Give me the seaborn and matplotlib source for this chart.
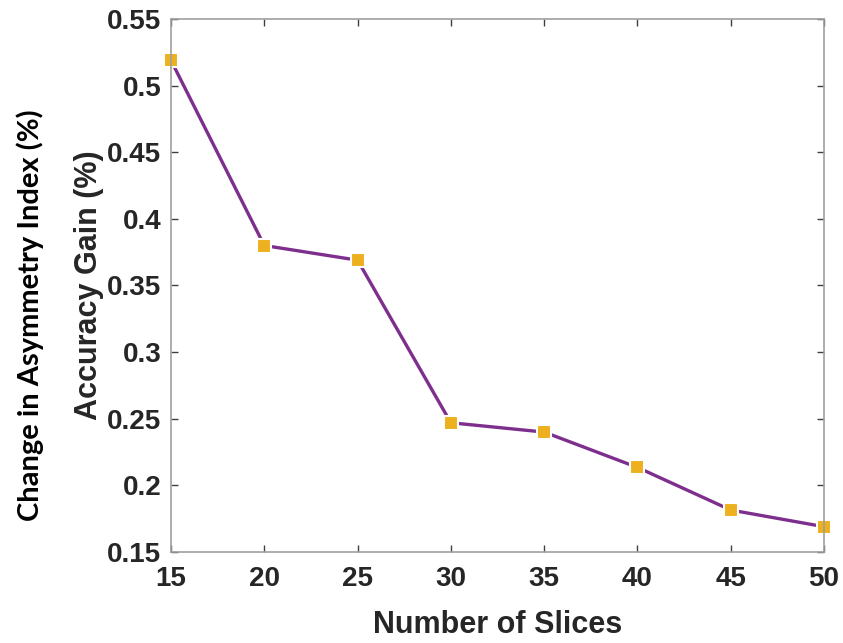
import matplotlib
matplotlib.use("Agg")
import matplotlib.pyplot as plt
import seaborn as sns
import pandas as pd

slices = [15, 20, 25, 30, 35, 40, 45, 50]
accuracy_gain = [0.519, 0.380, 0.369, 0.247, 0.240, 0.2135, 0.1815, 0.169]
x_ticks = [15, 20, 25, 30, 35, 40, 45, 50]
y_ticks = [0.15, 0.2, 0.25, 0.3, 0.35, 0.4, 0.45, 0.5, 0.55]
y_tick_labels = ["0.15", "0.2", "0.25", "0.3", "0.35", "0.4", "0.45", "0.5", "0.55"]

sns.set_theme(style="white")
plt.rcParams['font.family'] = ['Liberation Sans', 'DejaVu Sans']

df = pd.DataFrame({"slices": slices, "gain": accuracy_gain})

fig = plt.figure(figsize=(8.43, 6.43), dpi=100)
ax = fig.add_axes([0.2028, 0.1415, 0.9775 - 0.2028, 0.9705 - 0.1415])

sns.lineplot(data=df, x="slices", y="gain", ax=ax, color="#7E2F8E", linewidth=2.4,
             marker="s", markersize=10, markerfacecolor="#EDB120",
             markeredgecolor="white", markeredgewidth=1.5, clip_on=False)

ax.set_xlim(15, 50)
ax.set_ylim(0.15, 0.55)
ax.set_xticks(x_ticks)
ax.set_xticklabels([str(t) for t in x_ticks])
ax.set_yticks(y_ticks)
ax.set_yticklabels(y_tick_labels)

for s in ax.spines.values():
    s.set_visible(True)
    s.set_color("#a0a0a0")
    s.set_linewidth(1.2)

ax.tick_params(direction="in", length=5, width=1, color="#404040",
               top=True, right=True, bottom=True, left=True,
               labelsize=20, labelcolor="#262626")
ax.tick_params(axis="x", pad=10)
ax.tick_params(axis="y", pad=7)
for lab in ax.get_xticklabels() + ax.get_yticklabels():
    lab.set_fontweight("bold")

ax.set_xlabel("Number of Slices", fontsize=22, fontweight="bold", color="#262626", labelpad=13)
ax.set_ylabel("Accuracy Gain (%)", fontsize=22, fontweight="bold", color="#262626", labelpad=2)

fig.text(0.036, 0.51, "Change in Asymmetry Index (%)", rotation=90, va="center", ha="center",
         fontsize=21, fontweight="bold", color="black", family=["Lato", "DejaVu Sans"])

fig.savefig("out.png", dpi=100)
